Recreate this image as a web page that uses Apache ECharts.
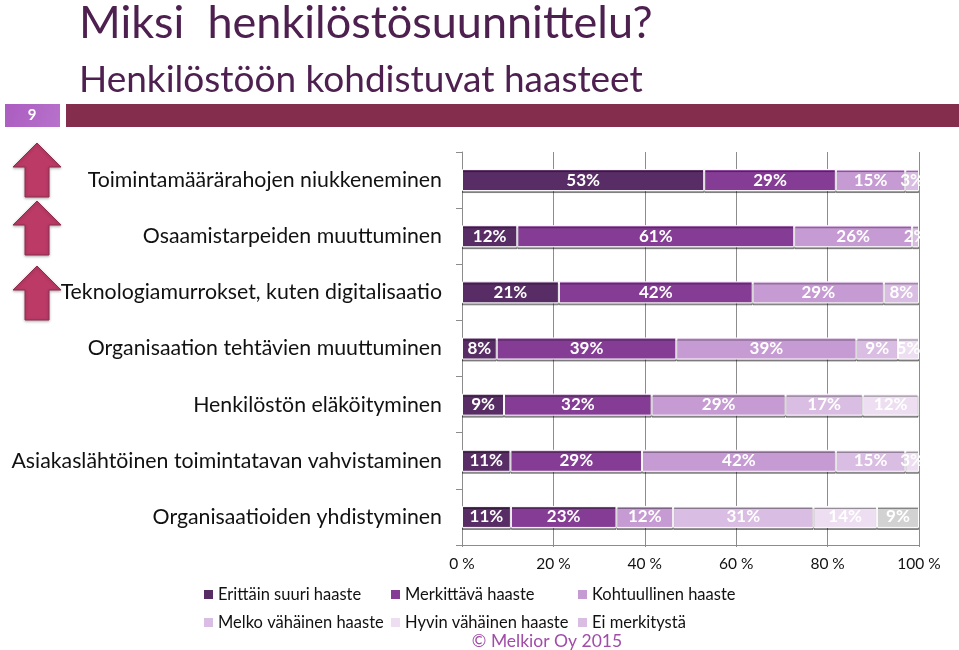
<!DOCTYPE html>
<html>
<head>
<meta charset="utf-8">
<title>Miksi henkilöstösuunnittelu?</title>
<script src="https://cdn.jsdelivr.net/npm/echarts@6/dist/echarts.min.js"></script>
<style>
  html, body { margin: 0; padding: 0; background: #fff; }
  #chart { width: 959px; height: 650px; }
</style>
</head>
<body>
<div id="chart"></div>
<script>
const categories = [
  'Toimintamäärärahojen niukkeneminen',
  'Osaamistarpeiden muuttuminen',
  'Teknologiamurrokset, kuten digitalisaatio',
  'Organisaation tehtävien muuttuminen',
  'Henkilöstön eläköityminen',
  'Asiakaslähtöinen toimintatavan vahvistaminen',
  'Organisaatioiden yhdistyminen'
]
const seriesNames = [
  'Erittäin suuri haaste',
  'Merkittävä haaste',
  'Kohtuullinen haaste',
  'Melko vähäinen haaste',
  'Hyvin vähäinen haaste',
  'Ei merkitystä'
]
const erittainSuuri = [53, 12.1, 21.2, 7.6, 9.2, 10.6, 10.7]
const merkittava = [28.8, 60.6, 42.4, 39.3, 32.3, 28.8, 23.1]
const kohtuullinen = [15.2, 25.8, 28.7, 39.4, 29.3, 42.4, 12.4]
const melkoVahainen = [3, 1.5, 7.7, 9.1, 16.9, 15.2, 30.7]
const hyvinVahainen = [null, null, null, 4.6, 12.2, 3, 13.9]
const eiMerkitysta = [null, null, null, null, null, null, 9.2]
const seriesValues = [erittainSuuri, merkittava, kohtuullinen, melkoVahainen, hyvinVahainen, eiMerkitysta]
const seriesColors = ['#582c64', '#843c94', '#c69ad2', '#dabde2', '#eddff1', '#d2d2d2']
const legendColors = ['#582c64', '#843c94', '#c69ad2', '#dabde2', '#eddff1', '#dabde2']
const legendPos = [[204, 586], [391, 586], [578, 586], [204, 614], [391, 614], [578, 614]]

const font = 'Lato'
const arrowTops = [143, 201, 266]

const chart = echarts.init(document.getElementById('chart'))

const arrow = (top) => ({
  type: 'polygon',
  z: 0,
  shape: {
    points: [
      [37, top], [61, top + 24], [49, top + 24], [49, top + 54],
      [25, top + 54], [25, top + 24], [13, top + 24]
    ]
  },
  style: {
    fill: '#bb3a66',
    stroke: '#8e2f50',
    lineWidth: 1,
    shadowBlur: 3,
    shadowColor: 'rgba(0,0,0,0.3)',
    shadowOffsetY: 1
  }
})

const option = {
  animation: false,
  textStyle: { fontFamily: font },
  title: [
    {
      text: 'Miksi  henkilöstösuunnittelu?',
      left: 79,
      top: -4,
      padding: 0,
      textStyle: { fontFamily: font, fontSize: 45, lineHeight: 54, fontWeight: 'normal', color: '#4e2050' }
    },
    {
      text: 'Henkilöstöön kohdistuvat haasteet',
      left: 79,
      top: 58,
      padding: 0,
      textStyle: { fontFamily: font, fontSize: 37, lineHeight: 44, fontWeight: 'normal', color: '#4e2050' }
    }
  ],
  legend: seriesNames.map((name, i) => ({
    data: [{ name, itemStyle: { color: legendColors[i], borderWidth: 0, shadowBlur: 0, shadowOffsetY: 0 } }],
    left: legendPos[i][0],
    top: legendPos[i][1],
    padding: 0,
    itemWidth: 9,
    itemHeight: 9,
    itemGap: 0,
    icon: 'rect',
    textStyle: { fontFamily: font, fontSize: 16.5, color: '#111' }
  })),
  grid: { left: 462, top: 152, width: 457, height: 393 },
  xAxis: {
    type: 'value',
    min: 0,
    max: 100,
    interval: 20,
    axisLine: { show: true, lineStyle: { color: '#8c8c8c', width: 1 } },
    axisTick: { show: true, length: 2, lineStyle: { color: '#8c8c8c' } },
    splitLine: { show: true, lineStyle: { color: '#8c8c8c', width: 1 } },
    axisLabel: {
      color: '#111',
      fontSize: 15.5,
      margin: 11,
      formatter: (v) => v + ' %'
    }
  },
  yAxis: {
    type: 'category',
    inverse: true,
    data: categories,
    axisLine: { show: true, lineStyle: { color: '#8c8c8c', width: 1 } },
    axisTick: { show: true, length: 6, lineStyle: { color: '#8c8c8c' } },
    axisLabel: { color: '#111', fontSize: 21.3, margin: 20 }
  },
  series: seriesNames.map((name, i) => ({
    name,
    type: 'bar',
    stack: 'total',
    barWidth: 22,
    data: seriesValues[i],
    itemStyle: {
      color: seriesColors[i],
      borderColor: '#fff',
      borderWidth: 1,
      shadowColor: 'rgba(0,0,0,0.4)',
      shadowBlur: 0,
      shadowOffsetY: 2
    },
    label: {
      show: true,
      position: 'inside',
      color: '#fff',
      fontFamily: font,
      fontSize: 17,
      fontWeight: 'bold',
      formatter: (p) => Math.round(p.value) + '%'
    }
  })),
  graphic: [
    { type: 'rect', z: 0, shape: { x: 5, y: 104, width: 55, height: 23 },
      style: {
        fill: new echarts.graphic.LinearGradient(0, 0, 1, 1, [
          { offset: 0, color: '#ab5cc0' }, { offset: 1, color: '#b772cb' }
        ])
      }
    },
    { type: 'text', z: 1, x: 32, y: 115,
      style: { text: '9', fill: '#fff', font: 'bold 15px ' + font, textAlign: 'center', textVerticalAlign: 'middle' }
    },
    { type: 'rect', z: 0, shape: { x: 66, y: 104, width: 893, height: 23 }, style: { fill: '#842d4c' } },
    ...arrowTops.map(arrow),
    // palkkien yli menevät tekstit leikataan 100 %:n kohdalta
    { type: 'rect', z: 100, shape: { x: 920, y: 153, width: 30, height: 390 }, style: { fill: '#fff' } },
    { type: 'text', z: 101, x: 547, y: 641,
      style: { text: '© Melkior Oy 2015', fill: '#a04ca8', font: '17.5px ' + font, textAlign: 'center', textVerticalAlign: 'middle' }
    }
  ]
}

chart.setOption(option)
</script>
</body>
</html>
